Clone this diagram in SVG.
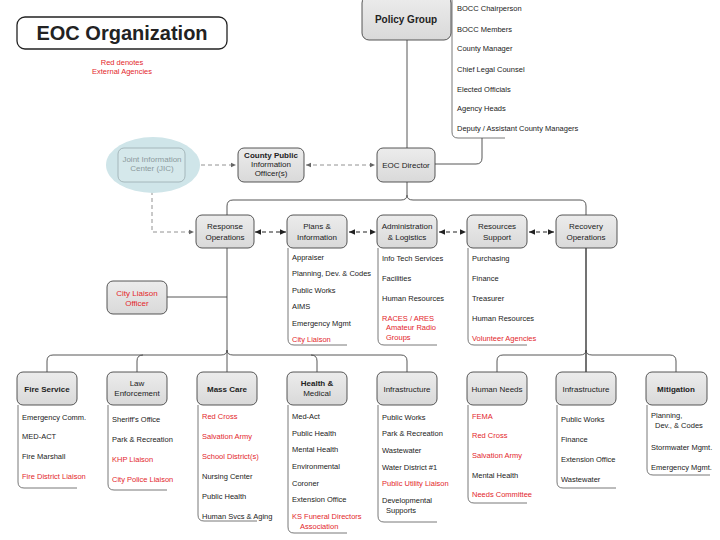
<svg xmlns="http://www.w3.org/2000/svg" width="720" height="540" viewBox="0 0 720 540">
<defs>
<linearGradient id="g" x1="0" y1="0" x2="0" y2="1">
<stop offset="0" stop-color="#ececec"/>
<stop offset="1" stop-color="#d9d9d9"/>
</linearGradient>
<marker id="ag" markerWidth="6" markerHeight="6" refX="5" refY="3" orient="auto-start-reverse" markerUnits="userSpaceOnUse">
<path d="M0,0.8 L5,3 L0,5.2 Z" fill="#666"/>
</marker>
<marker id="ab" markerWidth="7" markerHeight="7" refX="6" refY="3.5" orient="auto-start-reverse" markerUnits="userSpaceOnUse">
<path d="M0,0.8 L6,3.5 L0,6.2 Z" fill="#222"/>
</marker>
</defs>
<style>
text{font-family:"Liberation Sans",Arial,sans-serif;font-size:7.5px;fill:#222}
.c{text-anchor:middle;font-size:8px}
.b{font-weight:bold}
.r{fill:#e3262c}
.gr{fill:#8c9a9d}
.box{fill:url(#g);stroke:#444;stroke-width:0.9}
.br{fill:none;stroke:#555;stroke-width:0.8}
.ln{fill:none;stroke:#444;stroke-width:0.9}
.dg{fill:none;stroke:#777;stroke-width:0.8;stroke-dasharray:4,3}
.db{fill:none;stroke:#222;stroke-width:1.2;stroke-dasharray:4,3}
</style>
<rect width="720" height="540" fill="#fff"/>

<g id="title">
<rect x="17" y="17" width="210" height="32" rx="8" fill="#fff" stroke="#222" stroke-width="1.3"/>
<text x="122" y="40" class="c b" style="font-size:20px">EOC Organization</text>
<text x="122" y="65" class="c r" style="font-size:7.5px">Red denotes</text>
<text x="122" y="74" class="c r" style="font-size:7.5px">External Agencies</text>
</g>

<g id="connectors">
<path class="ln" d="M407,40 V148"/>
<path class="br" d="M452,0 V132 Q452,138 458,138 H505"/>
<path class="ln" d="M435,164 H476 Q482,164 482,158 V138"/>
<path class="dg" d="M187,165 H236" marker-start="url(#ag)" marker-end="url(#ag)"/>
<path class="dg" d="M306,165 H375" marker-start="url(#ag)" marker-end="url(#ag)"/>
<path class="dg" d="M152,184 V232 H194" marker-start="url(#ag)" marker-end="url(#ag)"/>
<path class="ln" d="M407,182 V195 Q407,200 401,200 H233 Q227,200 227,206 V215"/>
<path class="ln" d="M407,195 Q407,200 413,200 H580 Q586,200 586,206 V215"/>
<path class="db" d="M255,232 H286" marker-start="url(#ab)" marker-end="url(#ab)"/>
<path class="db" d="M349,232 H376" marker-start="url(#ab)" marker-end="url(#ab)"/>
<path class="db" d="M439,232 H466" marker-start="url(#ab)" marker-end="url(#ab)"/>
<path class="db" d="M529,232 H554" marker-start="url(#ab)" marker-end="url(#ab)"/>
<path class="ln" d="M227,248 V372"/>
<path class="ln" d="M167,297 H227"/>
<path class="ln" d="M586,248 V372" style="stroke-width:1.5"/>
<path class="ln" d="M47,372 V361 Q47,355 53,355 H221 Q227,355 227,350"/>
<path class="ln" d="M227,350 Q227,355 233,355 H401 Q407,355 407,361 V372"/>
<path class="ln" d="M137,372 V361 Q137,355 143,355"/>
<path class="ln" d="M311,355 Q317,355 317,361 V372"/>
<path class="ln" d="M497,372 V361 Q497,355 503,355 H580 Q586,355 586,350"/>
<path class="ln" d="M586,350 Q586,355 592,355 H670 Q676,355 676,361 V372"/>
</g>

<g id="policy">
<rect class="box" x="362" y="-4" width="89" height="44" rx="7"/>
<text x="406" y="23" class="c b" style="font-size:10px">Policy Group</text>
<text x="457" y="11">BOCC Chairperson</text>
<text x="457" y="32">BOCC Members</text>
<text x="457" y="51">County Manager</text>
<text x="457" y="72">Chief Legal Counsel</text>
<text x="457" y="92">Elected Officials</text>
<text x="457" y="111">Agency Heads</text>
<text x="457" y="131">Deputy / Assistant County Managers</text>
</g>

<g id="jic">
<ellipse cx="153" cy="165" rx="47" ry="28" fill="#cfe5e9"/>
<rect x="118" y="148" width="67" height="34" rx="6" fill="#d5e8eb" stroke="#9aabae" stroke-width="0.8"/>
<text x="152" y="162" class="c gr">Joint Information</text>
<text x="152" y="171" class="c gr">Center (JIC)</text>
</g>

<g id="cpio">
<rect class="box" x="238" y="148" width="66" height="34" rx="6"/>
<text x="271" y="158" class="c b">County Public</text>
<text x="271" y="167" class="c">Information</text>
<text x="271" y="176" class="c">Officer(s)</text>
</g>

<g id="eoc-director">
<rect class="box" x="377" y="148" width="58" height="34" rx="6"/>
<text x="406" y="168" class="c">EOC Director</text>
</g>

<g id="response-ops">
<rect class="box" x="196" y="215" width="58" height="33" rx="6"/>
<text x="225" y="229" class="c">Response</text>
<text x="225" y="240" class="c">Operations</text>
</g>

<g id="city-liaison-officer">
<rect class="box" x="107" y="281" width="60" height="33" rx="6"/>
<text x="137" y="296" class="c r">City Liaison</text>
<text x="137" y="306" class="c r">Officer</text>
</g>

<g id="plans">
<rect class="box" x="287" y="215" width="60" height="33" rx="6"/>
<text x="317" y="229" class="c">Plans &amp;</text>
<text x="317" y="240" class="c">Information</text>
<path class="br" d="M288,248 V339 Q288,345 294,345 H347"/>
<text x="292" y="260">Appraiser</text>
<text x="292" y="276">Planning, Dev. &amp; Codes</text>
<text x="292" y="293">Public Works</text>
<text x="292" y="309">AIMS</text>
<text x="292" y="326">Emergency Mgmt</text>
<text x="292" y="342" class="r">City Liaison</text>
</g>

<g id="admin">
<rect class="box" x="377" y="215" width="60" height="33" rx="6"/>
<text x="407" y="229" class="c">Administration</text>
<text x="407" y="240" class="c">&amp; Logistics</text>
<path class="br" d="M378,248 V339 Q378,345 384,345 H437"/>
<text x="382" y="261">Info Tech Services</text>
<text x="382" y="281">Facilities</text>
<text x="382" y="301">Human  Resources</text>
<text x="382" y="321" class="r">RACES / ARES</text>
<text x="386" y="330" class="r">Amateur Radio</text>
<text x="386" y="340" class="r">Groups</text>
</g>

<g id="resources">
<rect class="box" x="467" y="215" width="60" height="33" rx="6"/>
<text x="497" y="229" class="c">Resources</text>
<text x="497" y="240" class="c">Support</text>
<path class="br" d="M468,248 V339 Q468,345 474,345 H527"/>
<text x="472" y="261">Purchasing</text>
<text x="472" y="281">Finance</text>
<text x="472" y="301">Treasurer</text>
<text x="472" y="321">Human  Resources</text>
<text x="472" y="341" class="r">Volunteer Agencies</text>
</g>

<g id="recovery-ops">
<rect class="box" x="556" y="215" width="61" height="33" rx="6"/>
<text x="586" y="229" class="c">Recovery</text>
<text x="586" y="240" class="c">Operations</text>
</g>

<g id="fire">
<rect class="box" x="17" y="372" width="60" height="33" rx="6"/>
<text x="47" y="392" class="c b">Fire Service</text>
<path class="br" d="M18,405 V482 Q18,488 24,488 H77"/>
<text x="22" y="420">Emergency Comm.</text>
<text x="22" y="439">MED-ACT</text>
<text x="22" y="459">Fire Marshall</text>
<text x="22" y="479" class="r">Fire District Liaison</text>
</g>

<g id="law">
<rect class="box" x="107" y="372" width="60" height="33" rx="6"/>
<text x="137" y="386" class="c">Law</text>
<text x="137" y="396" class="c">Enforcement</text>
<path class="br" d="M108,405 V484 Q108,490 114,490 H167"/>
<text x="112" y="422">Sheriff's Office</text>
<text x="112" y="442">Park &amp; Recreation</text>
<text x="112" y="462" class="r">KHP Liaison</text>
<text x="112" y="482" class="r">City Police Liaison</text>
</g>

<g id="mass-care">
<rect class="box" x="197" y="372" width="60" height="33" rx="6"/>
<text x="227" y="392" class="c b">Mass Care</text>
<path class="br" d="M198,405 V515 Q198,521 204,521 H257"/>
<text x="202" y="419" class="r">Red Cross</text>
<text x="202" y="439" class="r">Salvation Army</text>
<text x="202" y="459" class="r">School District(s)</text>
<text x="202" y="479">Nursing Center</text>
<text x="202" y="499">Public Health</text>
<text x="202" y="519">Human Svcs &amp; Aging</text>
</g>

<g id="health">
<rect class="box" x="287" y="372" width="60" height="33" rx="6"/>
<text x="317" y="386" class="c b">Health &amp;</text>
<text x="317" y="396" class="c">Medical</text>
<path class="br" d="M288,405 V527 Q288,533 294,533 H347"/>
<text x="292" y="419">Med-Act</text>
<text x="292" y="436">Public Health</text>
<text x="292" y="452">Mental Health</text>
<text x="292" y="469">Environmental</text>
<text x="292" y="486">Coroner</text>
<text x="292" y="502">Extension Office</text>
<text x="292" y="519" class="r">KS Funeral Directors</text>
<text x="300" y="529" class="r">Association</text>
</g>

<g id="infrastructure-1">
<rect class="box" x="377" y="372" width="60" height="33" rx="6"/>
<text x="407" y="392" class="c">Infrastructure</text>
<path class="br" d="M378,405 V516 Q378,522 384,522 H437"/>
<text x="382" y="420">Public Works</text>
<text x="382" y="436">Park &amp; Recreation</text>
<text x="382" y="453">Wastewater</text>
<text x="382" y="470">Water District #1</text>
<text x="382" y="486" class="r">Public Utility Liaison</text>
<text x="382" y="503">Developmental</text>
<text x="386" y="513">Supports</text>
</g>

<g id="human-needs">
<rect class="box" x="467" y="372" width="60" height="33" rx="6"/>
<text x="497" y="392" class="c">Human Needs</text>
<path class="br" d="M468,405 V497 Q468,503 474,503 H527"/>
<text x="472" y="419" class="r">FEMA</text>
<text x="472" y="438" class="r">Red Cross</text>
<text x="472" y="458" class="r">Salvation Army</text>
<text x="472" y="478">Mental Health</text>
<text x="472" y="497" class="r">Needs Committee</text>
</g>

<g id="infrastructure-2">
<rect class="box" x="556" y="372" width="60" height="33" rx="6"/>
<text x="586" y="392" class="c">Infrastructure</text>
<path class="br" d="M557,405 V482 Q557,488 563,488 H616"/>
<text x="561" y="422">Public Works</text>
<text x="561" y="442">Finance</text>
<text x="561" y="462">Extension Office</text>
<text x="561" y="482">Wastewater</text>
</g>

<g id="mitigation">
<rect class="box" x="646" y="372" width="61" height="33" rx="6"/>
<text x="676" y="392" class="c b">Mitigation</text>
<path class="br" d="M647,405 V469 Q647,475 653,475 H710"/>
<text x="651" y="418">Planning,</text>
<text x="655" y="428">Dev., &amp; Codes</text>
<text x="651" y="450">Stormwater Mgmt.</text>
<text x="651" y="470">Emergency Mgmt.</text>
</g>
</svg>
